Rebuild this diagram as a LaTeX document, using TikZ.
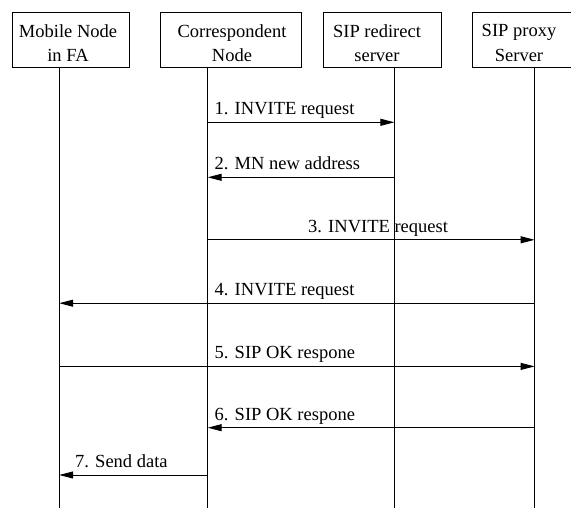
\documentclass[tikz,border=0pt]{standalone}
\usepackage{fontspec}
\setmainfont{Liberation Serif}
\usetikzlibrary{arrows.meta}
\begin{document}
\begin{tikzpicture}[x=1pt,y=-1pt,
  hdrbox/.style={draw=black, line width=1pt, inner sep=0pt},
  hdrtext/.style={align=center, inner sep=0pt, font=\fontsize{18.5}{24.5}\selectfont},
  lifeline/.style={line width=1pt},
  msg/.style={line width=1pt, -{Triangle[length=14pt,width=7pt]}},
  msglabel/.style={anchor=base west, inner sep=0pt, font=\fontsize{18.5}{22}\selectfont}]
\useasboundingbox (0,0) rectangle (571,508);

% header boxes
\node[hdrbox, minimum width=117pt, minimum height=55pt] (mnbox) at (71,40.5) {};
\node[hdrbox, minimum width=140.5pt, minimum height=55pt] (cnbox) at (230.75,40.5) {};
\node[hdrbox, minimum width=118pt, minimum height=55pt] (rsbox) at (382.5,40.5) {};
\node[hdrbox, minimum width=102.3pt, minimum height=55pt] (psbox) at (523.85,40.5) {};

\node[hdrtext] (mntext) at (68,43) {Mobile Node\\in FA};
\node[hdrtext] (cntext) at (232,43) {Correspondent\\Node};
\node[hdrtext] (rstext) at (377,43) {SIP redirect\\server};
\node[hdrtext] (pstext) at (519,43) {SIP proxy\\Server};

% lifelines
\coordinate (lmt) at (59.2,68);   \coordinate (lmb) at (59.2,508);
\coordinate (lct) at (207.7,68);  \coordinate (lcb) at (207.7,508);
\coordinate (lrt) at (394.4,68);  \coordinate (lrb) at (394.4,508);
\coordinate (lpt) at (534.6,68);  \coordinate (lpb) at (534.6,508);
\draw[lifeline] (lmt) -- (lmb);
\draw[lifeline] (lct) -- (lcb);
\draw[lifeline] (lrt) -- (lrb);
\draw[lifeline] (lpt) -- (lpb);

% message levels
\coordinate (m1) at (0,122.3);
\coordinate (m2) at (0,177.3);
\coordinate (m3) at (0,239.8);
\coordinate (m4) at (0,303.2);
\coordinate (m5) at (0,366.4);
\coordinate (m6) at (0,427.7);
\coordinate (m7) at (0,475);

\draw[msg] (lct |- m1) -- (lrt |- m1);
\draw[msg] (lrt |- m2) -- (lct |- m2);
\draw[msg] (lct |- m3) -- (lpt |- m3);
\draw[msg] (lpt |- m4) -- (lmt |- m4);
\draw[msg] (lmt |- m5) -- (lpt |- m5);
\draw[msg] (lpt |- m6) -- (lct |- m6);
\draw[msg] (lct |- m7) -- (lmt |- m7);

\node[msglabel] (t1) at (214.5,114.8) {1. INVITE request};
\node[msglabel] (t2) at (214.5,169.8) {2. MN new address};
\node[msglabel] (t3) at (308,232.3) {3. INVITE request};
\node[msglabel] (t4) at (214.5,295.7) {4. INVITE request};
\node[msglabel] (t5) at (214.5,358.9) {5. SIP OK respone};
\node[msglabel] (t6) at (214.5,420.2) {6. SIP OK respone};
\node[msglabel] (t7) at (75,467.5) {7. Send data};
\end{tikzpicture}
\end{document}
